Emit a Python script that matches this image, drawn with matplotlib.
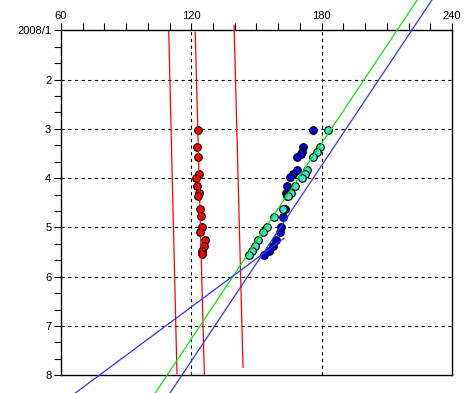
#!/usr/bin/env python3

# imports
import matplotlib
matplotlib.use("Agg")
import matplotlib.pyplot as plt
from matplotlib.ticker import MultipleLocator, FixedLocator

plt.rcParams['font.family'] = ['Liberation Sans', 'DejaVu Sans']

# month position (1 = 2008/1) for each observation
red_y = [3.03, 3.36, 3.58, 3.91, 3.99, 4.15, 4.30, 4.37, 4.62, 4.77,
         5.00, 5.10, 5.25, 5.38, 5.48, 5.54]
red_x = [122.9, 122.7, 123.2, 123.4, 122.3, 122.7, 123.7, 123.2, 124.1, 124.6,
         125.0, 124.1, 126.1, 126.0, 124.7, 125.0]

blue_y = [3.03, 3.36, 3.46, 3.51, 3.58, 3.83, 3.91, 3.98, 4.15, 4.30,
          4.37, 4.62, 4.78, 5.00, 5.10, 5.26, 5.38, 5.48, 5.55]
blue_x = [175.9, 171.3, 170.8, 170.4, 168.7, 168.5, 166.7, 165.5, 164.0, 163.7,
          164.0, 162.9, 162.1, 161.1, 160.6, 158.9, 157.6, 155.6, 153.4]

cyan_y = [3.03, 3.36, 3.46, 3.58, 3.83, 3.91, 3.99, 4.15, 4.30, 4.37,
          4.62, 4.78, 5.00, 5.10, 5.26, 5.38, 5.48, 5.55]
cyan_x = [183.1, 179.4, 177.9, 175.9, 173.4, 172.2, 170.8, 167.6, 166.0, 164.4,
          162.1, 158.0, 154.8, 153.0, 150.7, 149.5, 147.8, 146.6]

# fitted lines as (x0, y0, x1, y1)
red_lines = [(109.6, 1.03, 113.4, 7.97),
             (121.8, 1.04, 126.0, 7.98),
             (139.7, 0.90, 143.8, 7.84)]
green_line = (229.8, 0.0, 93.7, 9.0)
blue_lines = [(236.6, 0.0, 100.5, 9.0),
              (162.6, 5.22, 47.0, 9.0)]

x_ticks = [60, 120, 180, 240]
y_ticks = [1, 2, 3, 4, 5, 6, 7, 8]
y_labels = ["2008/1", "2", "3", "4", "5", "6", "7", "8"]

fig = plt.figure(figsize=(4.72, 3.93), dpi=100)
ax = fig.add_axes([0.1292, 0.045, 0.8284, 0.878])

# grid
for gx in [120, 180]:
    ax.axvline(gx, color="black", lw=0.8, ls=(0, (3, 3)), zorder=1)
for gy in [2, 3, 4, 5, 6, 7]:
    ax.axhline(gy, color="black", lw=0.8, ls=(0, (3, 3)), zorder=1)

# points
mk = dict(ls="none", marker="o", ms=5.5, mec="black", mew=0.8, zorder=3)
ax.plot(red_x, red_y, mfc="#FF0000", **mk)
ax.plot(blue_x, blue_y, mfc="#0000DD", **mk)
ax.plot(cyan_x, cyan_y, mfc="#3CE6D2", **mk)

# lines
for x0, y0, x1, y1 in red_lines:
    ax.plot([x0, x1], [y0, y1], color="#FF0000", lw=0.9, clip_on=False, zorder=4)
x0, y0, x1, y1 = green_line
ax.plot([x0, x1], [y0, y1], color="#00EE00", lw=0.9, clip_on=False, zorder=4)
for x0, y0, x1, y1 in blue_lines:
    ax.plot([x0, x1], [y0, y1], color="#3333FF", lw=0.9, clip_on=False, zorder=4)

ax.set_xlim(60, 240)
ax.set_ylim(8, 1)

ax.xaxis.tick_top()
ax.set_xticks(x_ticks)
ax.xaxis.set_minor_locator(MultipleLocator(10))
ax.set_yticks(y_ticks)
ax.set_yticklabels(y_labels)
ax.yaxis.set_minor_locator(FixedLocator([1 + i / 3 for i in range(22)]))

ax.tick_params(axis="both", which="both", direction="out", length=5,
               width=0.8, color="black", labelsize=8, pad=2)
ax.tick_params(axis="y", which="both", right=False)
ax.tick_params(axis="x", which="both", bottom=False)

for s in ax.spines.values():
    s.set_linewidth(1.0)

plt.savefig("out.png", dpi=100)
